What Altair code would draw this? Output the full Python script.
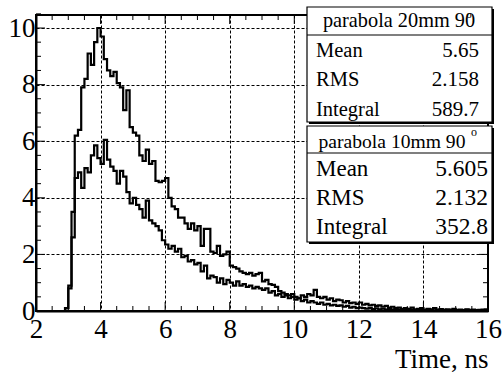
import altair as alt
import pandas as pd

# ---------------- data ----------------
BIN_LO = 2.0
BIN_W = 0.1

# parabola 20mm 90 deg (bins of 0.1 ns from 2.0 to 16.0)
h20 = [
    0, 0, 0, 0, 0, 0, 0, 0, 0, 0.1,
    0.9, 3.5, 6.2, 6.4, 7.9, 8.2, 9.1, 8.7, 9.5, 10.0,
    9.7, 8.9, 8.5, 8.3, 8.45, 8.05, 7.9, 7.1, 7.8, 6.5,
    6.3, 6.2, 5.5, 5.3, 5.7, 5.2, 5.3, 4.6, 4.55, 4.6,
    4.7, 4.0, 3.7, 3.6, 3.3, 3.3, 3.1, 2.9, 3.1, 2.85,
    3.0, 2.3, 2.9, 2.9, 2.1, 2.05, 2.3, 1.95, 2.0, 2.1,
    1.6, 1.55, 1.5, 1.4, 1.35, 1.3, 1.35, 1.25, 1.3, 1.35,
    1.05, 1.1, 0.95, 0.92, 0.85, 0.7, 0.65, 0.6, 0.55, 0.6,
    0.5, 0.45, 0.55, 0.5, 0.6, 0.55, 0.75, 0.5, 0.45, 0.5,
    0.4, 0.45, 0.35, 0.4, 0.38, 0.3, 0.35, 0.28, 0.3, 0.25,
    0.3, 0.22, 0.25, 0.2, 0.22, 0.18, 0.2, 0.15, 0.18, 0.12,
    0.15, 0.1, 0.12, 0.08, 0.1, 0.07, 0.12, 0.06, 0.08, 0.1,
    0.05, 0.08, 0.06, 0.1, 0.05, 0.07, 0.04, 0.06, 0.05, 0.08,
    0.04, 0.05, 0.03, 0.06, 0.04, 0.05, 0.03, 0.04, 0.05, 0.06,
]

# parabola 10mm 90 deg
h10 = [
    0, 0, 0, 0, 0, 0, 0, 0, 0, 0.1,
    0.8, 2.6, 4.7, 4.9, 4.35, 5.05, 4.9, 5.5, 5.85, 5.4,
    5.2, 6.05, 5.35, 5.1, 4.95, 4.5, 4.95, 4.75, 4.2, 3.8,
    4.0, 3.75, 3.6, 3.3, 3.9, 3.2, 3.1, 3.0, 2.85, 2.5,
    2.35, 2.2, 2.3, 2.1, 2.2, 1.9, 1.95, 1.75, 1.8, 1.65,
    1.7, 1.4, 1.6, 1.15, 1.25, 1.2, 1.0, 1.15, 0.95, 1.1,
    1.0, 0.9, 1.05, 0.9, 0.95, 0.85, 0.9, 0.8, 0.85, 0.8,
    0.75, 0.8, 0.65, 0.7, 0.55, 0.6, 0.5, 0.55, 0.45, 0.5,
    0.4, 0.45, 0.35, 0.4, 0.3, 0.35, 0.3, 0.25, 0.3, 0.22,
    0.25, 0.2, 0.22, 0.18, 0.2, 0.15, 0.18, 0.12, 0.15, 0.1,
    0.12, 0.1, 0.08, 0.1, 0.07, 0.09, 0.06, 0.08, 0.05, 0.07,
    0.05, 0.06, 0.04, 0.05, 0.03, 0.05, 0.04, 0.03, 0.04, 0.03,
    0.02, 0.03, 0.04, 0.02, 0.03, 0.02, 0.04, 0.03, 0.02, 0.03,
    0.02, 0.03, 0.02, 0.04, 0.02, 0.03, 0.02, 0.02, 0.03, 0.02,
]

stats_titles = ["parabola 20mm 90", "parabola 10mm 90"]
stats_labels = ["Mean", "RMS", "Integral"]
stats20 = ["5.65", "2.158", "589.7"]
stats10 = ["5.605", "2.132", "352.8"]

x_major = [2, 4, 6, 8, 10, 12, 14, 16]
x_minor = [2.5, 3, 3.5, 4.5, 5, 5.5, 6.5, 7, 7.5, 8.5, 9, 9.5,
           10.5, 11, 11.5, 12.5, 13, 13.5, 14.5, 15, 15.5]
y_major = [0, 2, 4, 6, 8, 10]
y_minor = [0.5, 1, 1.5, 2.5, 3, 3.5, 4.5, 5, 5.5, 6.5, 7, 7.5,
           8.5, 9, 9.5, 10.5]
x_title = "Time, ns"

# ---------------- layout ----------------
W, H = 452, 296
FONT = "Liberation Serif"
FS = 27


def hist_df(vals, name):
    edges = [BIN_LO + i * BIN_W for i in range(len(vals) + 1)]
    return pd.DataFrame({"t": edges, "v": list(vals) + [vals[-1]], "s": name})


hist = pd.concat([hist_df(h20, "20mm"), hist_df(h10, "10mm")], ignore_index=True)

xs = alt.Scale(domain=[2, 16], nice=False, zero=False)
ys = alt.Scale(domain=[0, 10.46], nice=False, zero=False)

X_AXIS = alt.Axis(
    values=x_major, format="d", title=x_title, grid=True, ticks=False,
    labelFlush=False, labelPadding=5, titleX=W, titleY=56,
    titleAlign="right", titleAnchor="end", titleBaseline="alphabetic",
    titleFont=FONT, titleFontSize=FS, titleFontWeight="normal",
    titleColor="black")
Y_AXIS = alt.Axis(
    values=y_major, format="d", title=None, grid=True, ticks=False,
    labelPadding=1)


def X():
    return alt.X("t:Q", scale=xs, axis=X_AXIS)


def Y():
    return alt.Y("v:Q", scale=ys, axis=Y_AXIS)


lines = alt.Chart(hist).mark_line(
    interpolate="step-after", strokeWidth=2.2, color="black", clip=True
).encode(x=X(), y=Y(), detail="s:N")


def xticks(vals, length, top):
    df = pd.DataFrame({"t": vals})
    y0, y1 = (0, length) if top else (H, H - length)
    return alt.Chart(df).mark_rule(color="black", strokeWidth=1).encode(
        x=X(), y=alt.value(y0), y2=alt.value(y1))


def yticks(vals, length, right):
    df = pd.DataFrame({"v": vals})
    x0, x1 = (W, W - length) if right else (0, length)
    return alt.Chart(df).mark_rule(color="black", strokeWidth=1).encode(
        y=Y(), x=alt.value(x0), x2=alt.value(x1))


one = pd.DataFrame({"a": [0]})


def rect(x0, x1, y0, y1, fill, stroke=None, sw=0):
    kw = dict(fill=fill)
    if stroke:
        kw.update(stroke=stroke, strokeWidth=sw)
    return alt.Chart(one).mark_rect(**kw).encode(
        x=alt.value(x0), x2=alt.value(x1), y=alt.value(y0), y2=alt.value(y1))


def hline(x0, x1, y, sw=1.2):
    return alt.Chart(one).mark_rule(color="black", strokeWidth=sw).encode(
        x=alt.value(x0), x2=alt.value(x1), y=alt.value(y))


def txt(s, x, y, size, align="left"):
    return alt.Chart(one).mark_text(
        font=FONT, fontSize=size, align=align, baseline="alphabetic", color="black"
    ).encode(x=alt.value(x), y=alt.value(y), text=alt.value(s))


layers = [
    lines,
    xticks(x_major, 9, False), xticks(x_minor, 5, False),
    xticks(x_major, 9, True), xticks(x_minor, 5, True),
    yticks(y_major, 9, False), yticks(y_minor, 5, False),
    yticks(y_major, 9, True), yticks(y_minor, 5, True),
]

# stats box 1 (20mm)
bx0, bx1 = 271, 456
layers += [
    rect(bx0 + 2, bx1 + 2, -8 + 2, 107 + 2, "black"),
    rect(bx0, bx1, -8, 107, "white", "black", 1.2),
    hline(bx0, bx1, 20),
    txt(stats_titles[0], 363, 12, 20.3, "center"),
    txt("o", 433, 3, 11, "center"),
]
for lab, val, yy in zip(stats_labels, stats20, [42, 71, 101]):
    layers += [txt(lab, 280, yy, 20.5), txt(val, 443, yy, 21, "right")]

# stats box 2 (10mm)
layers += [
    rect(bx0 + 2, bx1 + 2, 111 + 2, 227 + 2, "black"),
    rect(bx0, bx1, 111, 227, "white", "black", 1.2),
    hline(bx0, bx1, 138),
    txt(stats_titles[1], 356, 133, 19.6, "center"),
    txt("o", 438, 121, 12, "center"),
]
for lab, val, yy in zip(stats_labels, stats10, [161, 190, 219]):
    layers += [txt(lab, 280, yy, 23), txt(val, 452, yy, 23.5, "right")]

chart = alt.layer(*layers).properties(
    width=W, height=H,
    autosize=alt.AutoSizeParams(type="none"),
    padding={"left": 36, "top": 15, "right": 15, "bottom": 72},
    background="white",
).configure_view(
    stroke="black", strokeWidth=2
).configure_axis(
    domainColor="black", domainWidth=2,
    labelFont=FONT, labelFontSize=FS, labelColor="black",
    gridColor="black", gridDash=[3, 2], gridWidth=1, gridOpacity=1,
)

chart.save("out.html", embed_options={"renderer": "svg", "actions": False})
